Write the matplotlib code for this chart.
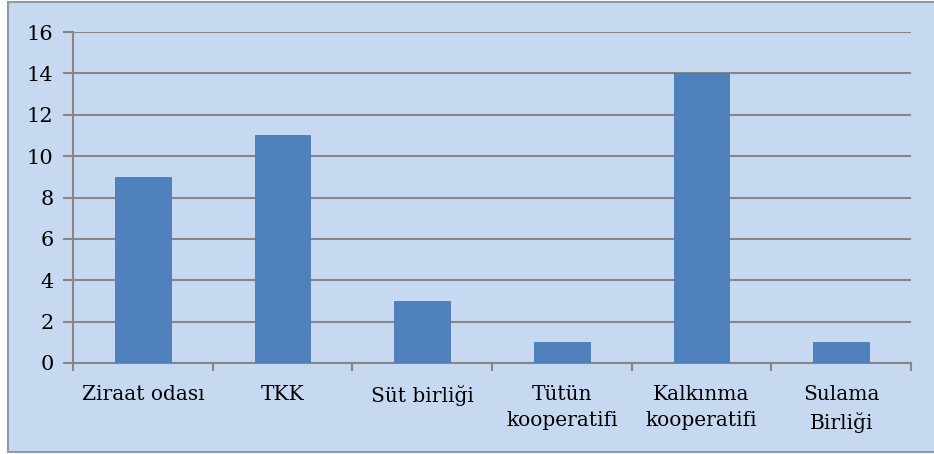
import matplotlib.pyplot as plt
from matplotlib.patches import Rectangle

# Categories and counts
categories = ['Ziraat odası', 'TKK', 'Süt birliği', 'Tütün\nkooperatifi',
              'Kalkınma\nkooperatifi', 'Sulama\nBirliği']
values = [9, 11, 3, 1, 14, 1]
y_ticks = [0, 2, 4, 6, 8, 10, 12, 14, 16]

bg = '#C6D9F1'
bar_color = '#4F81BD'
grid_color = '#878787'

plt.rcParams['font.family'] = ['DejaVu Serif']

fig = plt.figure(figsize=(9.34, 4.54), dpi=100)
fig.patch.set_facecolor('white')
# chart area frame (extends past the right edge like the reference)
fig.add_artist(Rectangle((8 / 934, 2 / 454), 940 / 934, 450 / 454,
                         transform=fig.transFigure, facecolor=bg,
                         edgecolor='#8E9AAA', linewidth=1.5, zorder=-10))

ax = fig.add_axes([73 / 934, 1 - 363 / 454, (911 - 73) / 934, (363 - 32) / 454])
ax.patch.set_alpha(0)

x = list(range(len(categories)))
ax.bar(x, values, width=0.4, color=bar_color, edgecolor='#4A7AB3',
       linewidth=0.6, zorder=3)

ax.set_xlim(-0.5, len(categories) - 0.5)
ax.set_ylim(0, 16)
ax.set_yticks(y_ticks)
ax.set_yticklabels([str(t) for t in y_ticks], fontsize=15)
ax.yaxis.grid(True, color=grid_color, linewidth=1.5, zorder=1)
ax.set_axisbelow(True)

ax.set_xticks(x)
ax.set_xticklabels(categories, fontsize=14.5, linespacing=1.45)
ax.tick_params(axis='x', which='major', length=0, pad=16)
ax.set_xticks([i - 0.5 for i in range(len(categories) + 1)], minor=True)
ax.tick_params(axis='x', which='minor', length=6, width=1.5, color=grid_color)
ax.tick_params(axis='y', length=7, width=1.5, color=grid_color, pad=7)

for side in ['top', 'right']:
    ax.spines[side].set_visible(False)
for side in ['left', 'bottom']:
    ax.spines[side].set_color(grid_color)
    ax.spines[side].set_linewidth(1.5)

fig.savefig('out.png', dpi=100, facecolor=fig.get_facecolor())
